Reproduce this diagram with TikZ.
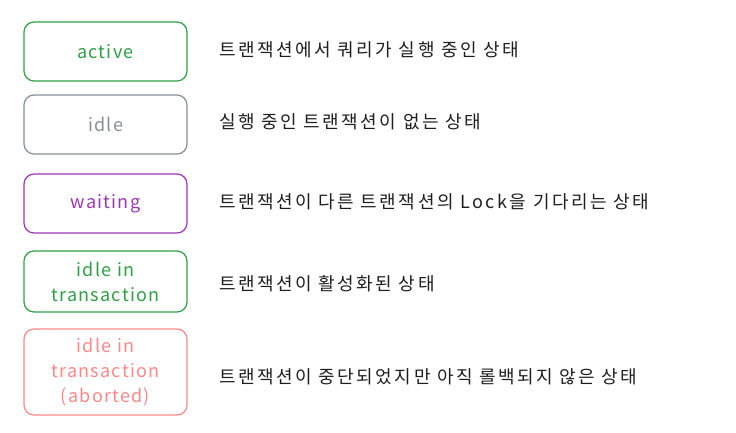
\documentclass[tikz,border=0pt]{standalone}
\usepackage{fontspec}
\setmainfont{Noto Sans CJK KR}
\newfontfamily\descfont[LetterSpace=14]{Noto Sans CJK KR}
\newfontfamily\labfont[LetterSpace=7]{Noto Sans CJK KR}
\definecolor{cgreen}{HTML}{2F9E44}
\definecolor{cgray}{HTML}{868E96}
\definecolor{cpurple}{HTML}{9C36B5}
\definecolor{cred}{HTML}{FF8787}
\definecolor{ctext}{HTML}{1E1E1E}
\tikzset{
  statebox/.style={draw, rounded corners=10pt, line width=1.2pt, minimum width=163pt, align=center, font=\labfont\fontsize{18}{25}\selectfont, inner sep=0pt},
  desc/.style={anchor=west, text=ctext, font=\descfont\fontsize{18}{20}\selectfont, inner sep=0pt}
}
\begin{document}
\begin{tikzpicture}[x=1pt,y=-1pt]
\useasboundingbox (0,0) rectangle (736,432);
\node[statebox, cgreen, minimum height=59pt] (active) at (105.5,51.5) {active};
\node[statebox, cgray, minimum height=59pt] (idle) at (105.5,124.5) {idle};
\node[statebox, cpurple, minimum height=59pt] (waiting) at (105.5,203.5) {waiting};
\node[statebox, cgreen, minimum height=61pt] (iit) at (105.5,281.5) {idle in\\transaction};
\node[statebox, cred, minimum height=86pt] (iita) at (105.5,372) {idle in\\transaction\\(aborted)};
\node[desc] (d1) at (219,50) {트랜잭션에서 쿼리가 실행 중인 상태};
\node[desc] (d2) at (219,122) {실행 중인 트랜잭션이 없는 상태};
\node[desc] (d3) at (219,202) {트랜잭션이 다른 트랜잭션의 Lock을 기다리는 상태};
\node[desc] (d4) at (219,284) {트랜잭션이 활성화된 상태};
\node[desc] (d5) at (219,377) {트랜잭션이 중단되었지만 아직 롤백되지 않은 상태};
\end{tikzpicture}
\end{document}
